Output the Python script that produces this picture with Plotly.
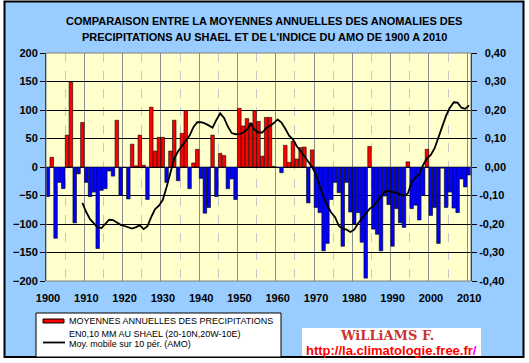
import plotly.graph_objects as go

# ---------------- data ----------------
years = list(range(1900, 2011))
precip = [
    -52, 17, -125, -27, -38, 56, 149, -98, -12, 78,
    -27, -52, -44, -143, -41, -38, -7, -16, 82, -50,
    -1, -56, 40, 2, 56, 3, -57, 105, 28, 52,
    52, -27, 28, 82, -24, 59, 99, -38, 7, 31,
    -20, -81, -71, 56, -52, 24, 20, -38, -21, -57,
    103, 72, 85, 77, 99, 80, 19, 87, 87, 1,
    -1, -10, 38, 8, 45, 14, 34, 35, -63, 30,
    -71, -80, -147, -134, -57, -27, -45, -139, -27, -79,
    -100, -80, -132, -195, 36, -109, -118, -147, -51, -66,
    -139, -73, -98, -106, 9, -73, -67, -93, -50, 31,
    -85, -71, -134, -2, -71, -44, -72, -80, -21, -35, -14,
]

amo_years = list(range(1909, 2011))
amo = [
    -0.126,
    -0.158, -0.183, -0.197, -0.212, -0.214, -0.198, -0.185, -0.186, -0.194, -0.203,
    -0.207, -0.212, -0.216, -0.211, -0.205, -0.218, -0.208, -0.175, -0.148, -0.136,
    -0.115, -0.070, -0.015, 0.030, 0.055, 0.074, 0.090, 0.110, 0.140, 0.157,
    0.157, 0.153, 0.146, 0.138, 0.165, 0.188, 0.172, 0.142, 0.119, 0.115,
    0.116, 0.120, 0.131, 0.152, 0.130, 0.121, 0.121, 0.136, 0.145, 0.154,
    0.167, 0.156, 0.134, 0.110, 0.097, 0.073, 0.056, 0.038, 0.017, 0.000,
    -0.026, -0.071, -0.107, -0.136, -0.160, -0.176, -0.207, -0.216, -0.220, -0.228,
    -0.220, -0.198, -0.180, -0.163, -0.147, -0.137, -0.122, -0.104, -0.086, -0.084,
    -0.088, -0.090, -0.096, -0.101, -0.093, -0.053, -0.036, -0.024, 0.007, 0.030,
    0.042, 0.066, 0.104, 0.143, 0.180, 0.208, 0.227, 0.226, 0.208, 0.204, 0.216,
]

x_ticks = list(range(1900, 2011, 10))
x_minor = list(range(1905, 2010, 10))
left_ticks = [-200, -150, -100, -50, 0, 50, 100, 150, 200]
right_ticks = [-0.4, -0.3, -0.2, -0.1, 0.0, 0.1, 0.2, 0.3, 0.4]
right_labels = ["-0,40", "-0,30", "-0,20", "-0,10", "\u20020,00",
                "\u20020,10", "\u20020,20", "\u20020,30", "\u20020,40"]

title1 = "COMPARAISON ENTRE LA MOYENNES ANNUELLES DES ANOMALIES DES"
title2 = "PRECIPITATIONS AU SHAEL ET DE L'INDICE DU AMO DE 1900 A 2010"
leg1a = "MOYENNES ANNUELLES DES PRECIPITATIONS"
leg1b = "EN0,10 MM AU SHAEL (20-10N,20W-10E)"
leg2 = "Moy. mobile sur 10 pér. (AMO)"

# ---------------- layout helpers ----------------
W, H = 529, 363
L, R, T, B = 46, 471, 53, 281
FONT = "Liberation Sans, Arial, sans-serif"


def px(x):
    return x / W


def py(y):
    return 1 - y / H


colors = ["#FF0000" if v >= 0 else "#0000FF" for v in precip]

fig = go.Figure()
fig.add_trace(go.Bar(
    x=[y + 0.5 for y in years], y=precip, width=0.92,
    marker=dict(color=colors, line=dict(color="black", width=0.6)),
    yaxis="y", showlegend=False, hoverinfo="skip",
))
fig.add_trace(go.Scatter(
    x=[y + 0.5 for y in amo_years], y=amo, mode="lines",
    line=dict(color="black", width=1.8), yaxis="y2",
    showlegend=False, hoverinfo="skip",
))

tickfont = dict(family=FONT, size=11, color="black", weight="bold")

fig.update_layout(
    width=W, height=H,
    margin=dict(l=0, r=0, t=0, b=0, autoexpand=False),
    paper_bgcolor="#99CCFF",
    plot_bgcolor="#FFFFCC",
    showlegend=False,
    xaxis=dict(
        domain=[px(L), px(R)], range=[1900, 2011],
        tickmode="array", tickvals=x_ticks, ticktext=[str(v) for v in x_ticks],
        showgrid=True, gridcolor="#8C8C8C", gridwidth=1,
        minor=dict(tickmode="array", tickvals=x_minor, showgrid=True,
                   gridcolor="#C8C8C8", griddash="dash", gridwidth=1, ticks=""),
        ticks="outside", ticklen=7, tickcolor="rgba(0,0,0,0)",
        showline=False, zeroline=False, tickfont=tickfont, ticklabelshift=2,
        fixedrange=True,
    ),
    yaxis=dict(
        domain=[py(B), py(T)], range=[-200, 200],
        tickmode="array", tickvals=left_ticks,
        showgrid=True, gridcolor="black", gridwidth=1,
        zeroline=True, zerolinecolor="black", zerolinewidth=1,
        showline=True, linecolor="black", linewidth=1,
        ticks="outside", ticklen=5, tickcolor="black",
        tickfont=tickfont, fixedrange=True,
    ),
    yaxis2=dict(
        overlaying="y", side="right", anchor="x", range=[-0.4, 0.4],
        tickmode="array", tickvals=right_ticks, ticktext=right_labels,
        showgrid=False, zeroline=False,
        showline=True, linecolor="black", linewidth=1,
        ticks="outside", ticklen=5, tickcolor="black",
        tickfont=tickfont, fixedrange=True,
    ),
)

shapes = []
# white margin strips outside the black frame
for (x0, y0, x1, y1) in [(0, 0, 4, H), (524, 0, W, H), (0, 357, W, H), (0, 0, W, 1)]:
    shapes.append(dict(type="rect", xref="paper", yref="paper",
                       x0=px(x0), x1=px(x1), y0=py(y1), y1=py(y0),
                       fillcolor="white", line=dict(width=0), layer="below"))
# black outer frame
shapes.append(dict(type="rect", xref="paper", yref="paper",
                   x0=px(4.5), x1=px(523.5), y0=py(357), y1=py(1.5),
                   line=dict(color="black", width=2), fillcolor="rgba(0,0,0,0)", layer="above"))
# plot-area border
shapes.append(dict(type="rect", xref="paper", yref="paper",
                   x0=px(L), x1=px(R), y0=py(B), y1=py(T),
                   line=dict(color="#808080", width=1), fillcolor="rgba(0,0,0,0)", layer="above"))
# legend box
shapes.append(dict(type="rect", xref="paper", yref="paper",
                   x0=px(36), x1=px(281), y0=py(357), y1=py(313),
                   line=dict(color="black", width=1), fillcolor="white", layer="above"))
# red swatch
shapes.append(dict(type="rect", xref="paper", yref="paper",
                   x0=px(43), x1=px(64), y0=py(323), y1=py(319),
                   line=dict(color="black", width=1), fillcolor="#FF0000", layer="above"))
# line swatch
shapes.append(dict(type="line", xref="paper", yref="paper",
                   x0=px(43), x1=px(65), y0=py(342.5), y1=py(342.5),
                   line=dict(color="black", width=1.8), layer="above"))
# watermark box
shapes.append(dict(type="rect", xref="paper", yref="paper",
                   x0=px(302), x1=px(481), y0=py(356), y1=py(328),
                   line=dict(width=0), fillcolor="white", layer="above"))
fig.update_layout(shapes=shapes)

ann = []


def text(x, y, s, size, xanchor="center", color="black", bold=False, family=FONT):
    ann.append(dict(xref="paper", yref="paper", x=px(x), y=py(y), text=s,
                    showarrow=False, xanchor=xanchor, yanchor="middle",
                    font=dict(family=family, size=size, color=color,
                              weight="bold" if bold else "normal")))


text(264, 21, title1, 11, bold=True)
text(264, 37, title2, 11, bold=True)
text(67, 321, leg1a, 9, xanchor="left")
text(67, 334, leg1b, 9, xanchor="left")
text(67, 343.5, leg2, 9, xanchor="left")
text(387, 335, "WiLLiAMS F.", 13, color="#CC3333", bold=True,
     family="DejaVu Serif, serif")
text(391, 350, "http://la.climatologie.free.fr<span style='color:#FF00FF'>/</span>",
     13, color="#FF0000", bold=True)
fig.update_layout(annotations=ann)

fig.write_html("out.html", config={"staticPlot": True},
               post_script="document.body.style.margin='0';document.body.style.padding='0';")
